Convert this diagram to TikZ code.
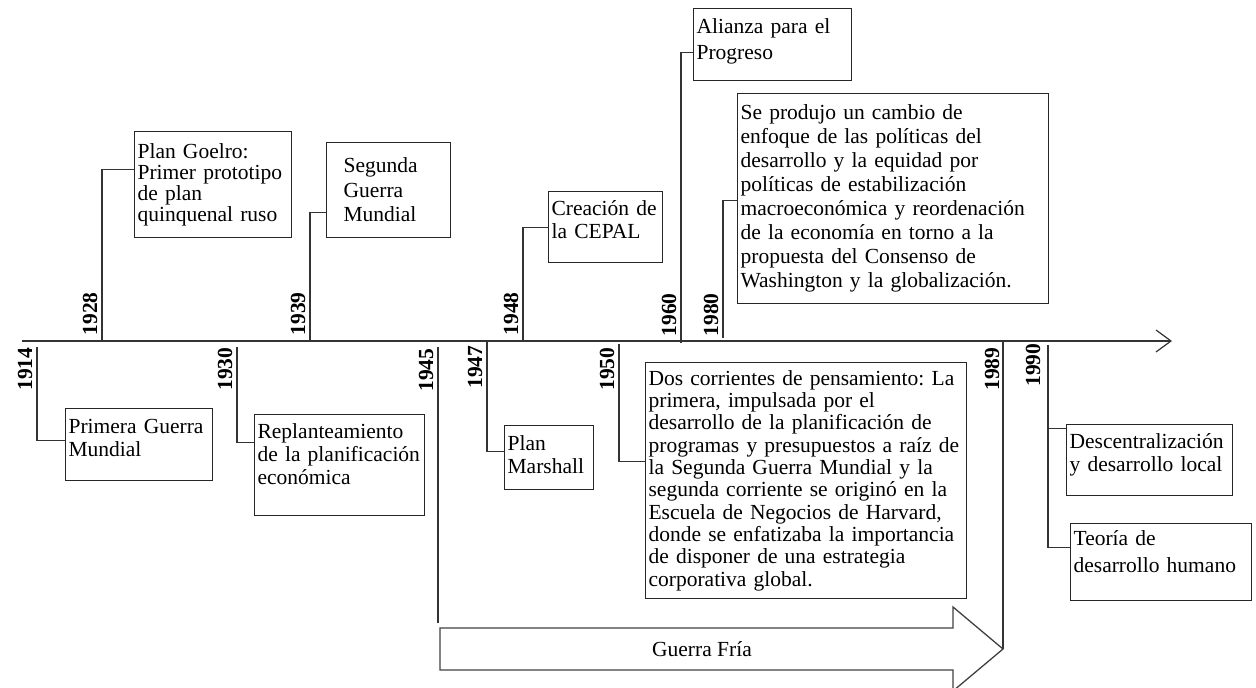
\documentclass[tikz,border=0pt]{standalone}
\usepackage{fontspec}
\setmainfont{Liberation Serif}
\usetikzlibrary{arrows.meta}
\frenchspacing

\begin{document}
\begin{tikzpicture}[x=1pt,y=-1pt,line width=1.2pt,
    note/.style={draw=black!85,anchor=north west,align=left,inner xsep=3pt,
      inner ysep=0pt,font=\fontsize{21.5}{23}\selectfont},
    leading/.style={font=\fontsize{21.5}{#1}\selectfont},
    year/.style={rotate=90,inner sep=0pt,font=\fontsize{21.5}{23}\selectfont\bfseries},
    tie/.style={draw=black!80},
    cold/.style={draw=black!75,line width=1.3pt}]
    \useasboundingbox (0,0) rectangle (1256,688);
    \coordinate (axis start) at (22,341);
    \coordinate (axis end) at (1172,341);
    \draw[tie,-{Straight Barb[length=15pt,width=22pt]}] (axis start) -- (axis end);
    \coordinate (t1914) at (37,347);
    \coordinate (t1928) at (102,341);
    \coordinate (t1930) at (237,347);
    \coordinate (t1939) at (310,341);
    \coordinate (t1945) at (438,347);
    \coordinate (e1945) at (438,623);
    \coordinate (t1947) at (487,341);
    \coordinate (t1948) at (523,341);
    \coordinate (t1950) at (619,344);
    \coordinate (t1960) at (681,343);
    \coordinate (t1980) at (723,338);
    \coordinate (t1989) at (1003,341);
    \coordinate (t1990) at (1048,345);
    \coordinate (frio tip) at (1003,649);
    \node[year,anchor=south east] (l1914) at (33,347) {1914};
    \node[year,anchor=south west] (l1928) at (98,336) {1928};
    \node[year,anchor=south east] (l1930) at (233,347) {1930};
    \node[year,anchor=south west] (l1939) at (306,336) {1939};
    \node[year,anchor=south east] (l1945) at (434,348) {1945};
    \node[year,anchor=south east] (l1947) at (483,345) {1947};
    \node[year,anchor=south west] (l1948) at (519,336) {1948};
    \node[year,anchor=south east] (l1950) at (615,347) {1950};
    \node[year,anchor=south west] (l1960) at (677,337) {1960};
    \node[year,anchor=south west] (l1980) at (719,337) {1980};
    \node[year,anchor=south east] (l1989) at (1000,347) {1989};
    \node[year,anchor=south east] (l1990) at (1041,343) {1990};
    \node[note,text width=141pt,minimum height=72pt,text depth=37pt] (primera) at (65,408)
      {Primera Guerra\\Mundial};
    \node[note,leading=21,text width=151pt,minimum height=106pt] (goelro) at (134,131)
      {Plan Goelro:\\Primer prototipo\\de plan\\quinquenal ruso};
    \node[note,text width=164pt,minimum height=101pt,text depth=68pt] (replant) at (254,414)
      {Replanteamiento\\de la planificación\\económica};
    \node[note,leading=24.5,inner xsep=17pt,text width=90pt,minimum height=95pt] (segunda) at (326,142)
      {Segunda\\Guerra\\Mundial};
    \node[note,text width=83pt,minimum height=64pt,text depth=29pt] (marshall) at (504,425)
      {Plan\\Marshall};
    \node[note,text width=108pt,minimum height=71pt,text depth=38pt] (cepal) at (548,191)
      {Creación de\\la CEPAL};
    \node[note,leading=22.3,text width=315pt,minimum height=236pt] (corrientes) at (645,362)
      {Dos corrientes de pensamiento: La\\primera, impulsada por el\\desarrollo de la planificación de\\
       programas y presupuestos a raíz de\\la Segunda Guerra Mundial y la\\segunda corriente se originó en la\\
       Escuela de Negocios de Harvard,\\donde se enfatizaba la importancia\\de disponer de una estrategia\\
       corporativa global.};
    \node[note,leading=26,text width=152pt,minimum height=72pt,text depth=37pt] (alianza) at (693,8)
      {Alianza para el\\Progreso};
    \node[note,leading=24,text width=305pt,minimum height=210pt] (consenso) at (737,93)
      {Se produjo un cambio de\\enfoque de las políticas del\\desarrollo y la equidad por\\
       políticas de estabilización\\macroeconómica y reordenación\\de la economía en torno a la\\
       propuesta del Consenso de\\Washington y la globalización.};
    \node[note,text width=160pt,minimum height=71pt,text depth=38pt] (descentral) at (1066,424)
      {Descentralización\\y desarrollo local};
    \node[note,leading=27,text width=175pt,minimum height=77pt,text depth=48pt] (humano) at (1070,523)
      {Teoría de\\desarrollo humano};
    \draw[tie] (t1914) |- ([yshift=4pt]primera.west);
    \draw[tie] (t1928) |- ([yshift=15pt]goelro.west);
    \draw[tie] (t1930) |- ([yshift=22.5pt]replant.west);
    \draw[tie] (t1939) |- ([yshift=-22.5pt]segunda.west);
    \draw[tie] (t1945) -- (e1945);
    \draw[tie] (t1947) |- ([yshift=6pt]marshall.west);
    \draw[tie] (t1948) |- (cepal.west);
    \draw[tie] (t1950) |- ([yshift=19pt]corrientes.west);
    \draw[tie] (t1960) |- ([yshift=-8pt]alianza.west);
    \draw[tie] (t1980) |- ([yshift=-2pt]consenso.west);
    \draw[tie] (t1989) -- (frio tip);
    \draw[tie] (t1990) |- ([yshift=31.5pt]descentral.west);
    \draw[tie] (t1990) |- ([yshift=14.5pt]humano.west);
    \draw[cold] (440,628) -- (953,628) -- (953,607) -- (frio tip)
      -- (953,691) -- (953,670) -- (440,670) -- cycle;
    \node[font=\fontsize{21.5}{23}\selectfont] (guerra fria) at (702,649) {Guerra Fría};
  \end{tikzpicture}
\end{document}
